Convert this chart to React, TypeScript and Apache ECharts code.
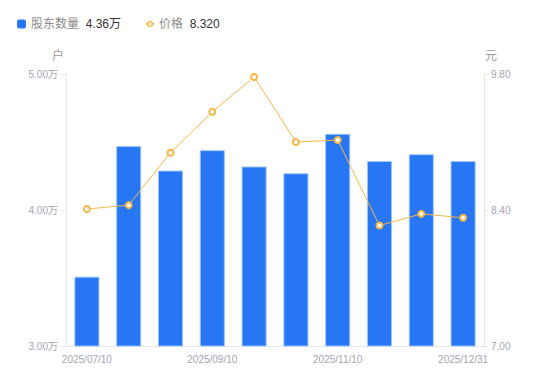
import React, { useEffect, useRef } from "react";
import * as echarts from "echarts";

const categories = [
  "2025/07/10", "2025/07/31", "2025/08/20", "2025/09/10", "2025/09/30",
  "2025/10/20", "2025/11/10", "2025/11/28", "2025/12/10", "2025/12/31",
];
const holders = [3.51, 4.47, 4.29, 4.44, 4.32, 4.27, 4.56, 4.36, 4.41, 4.36]; // 万户
const prices = [8.41, 8.45, 8.99, 9.41, 9.77, 9.10, 9.12, 8.24, 8.36, 8.32]; // 元
const leftTicks = { min: 3, max: 5, interval: 1 };
const rightTicks = { min: 7, max: 9.8, interval: 1.4 };
const barName = "股东数量";
const lineName = "价格";

export default function App() {
  const ref = useRef<HTMLDivElement>(null);
  useEffect(() => {
    if (!ref.current) return;
    const chart = echarts.init(ref.current, undefined, { renderer: "svg" });
    const lastHolder = holders[holders.length - 1];
    const lastPrice = prices[prices.length - 1];
    const axisLabelColor = "#a3a5b3";
    const legendText = {
      rich: {
        a: { color: "#8c8c8c", fontSize: 12 },
        b: { color: "#333333", fontSize: 12 },
      },
    };
    chart.setOption({
      animation: false,
      textStyle: { fontFamily: 'Arial, "Liberation Sans", "Noto Sans CJK SC", sans-serif' },
      legend: [
        {
          left: 17,
          top: 18,
          padding: 0,
          itemWidth: 9,
          itemHeight: 9,
          itemTextGap: 5,
          data: [{ name: barName, icon: "roundRect" }],
          itemStyle: { borderWidth: 0 },
          formatter: (name: string) => `{a|${name}}  {b|${lastHolder.toFixed(2)}万}`,
          textStyle: legendText,
        },
        {
          left: 145,
          top: 18,
          padding: 0,
          itemWidth: 8,
          itemHeight: 6,
          itemTextGap: 8,
          data: [{ name: lineName }],
          itemStyle: { borderWidth: 1.5 },
          formatter: (name: string) => `{a|${name}}  {b|${lastPrice.toFixed(3)}}`,
          textStyle: legendText,
        },
      ],
      grid: { left: 66, right: 66, top: 74, bottom: 35 },
      xAxis: {
        type: "category",
        data: categories,
        axisLine: { lineStyle: { color: "#e6e6e6" } },
        axisTick: { show: false },
        axisLabel: { interval: 2, color: axisLabelColor, fontSize: 10, margin: 8 },
      },
      yAxis: [
        {
          type: "value",
          name: "户",
          nameGap: 12,
          nameTextStyle: { color: "#9a9a9a", fontSize: 12, align: "right", padding: [0, 2, 0, 0] },
          min: leftTicks.min,
          max: leftTicks.max,
          interval: leftTicks.interval,
          axisLine: { show: true, lineStyle: { color: "#e6e6e6" } },
          axisTick: { show: true, length: 5, lineStyle: { color: "#e6e6e6" } },
          splitLine: { show: false },
          axisLabel: {
            color: axisLabelColor,
            fontSize: 10,
            margin: 8,
            formatter: (v: number) => `${v.toFixed(2)}万`,
          },
        },
        {
          type: "value",
          name: "元",
          nameGap: 12,
          nameTextStyle: { color: "#9a9a9a", fontSize: 12, align: "left", padding: [0, 0, 0, 1] },
          min: rightTicks.min,
          max: rightTicks.max,
          interval: rightTicks.interval,
          axisLine: { show: true, lineStyle: { color: "#e6e6e6" } },
          axisTick: { show: true, length: 4, lineStyle: { color: "#e6e6e6" } },
          splitLine: { show: false },
          axisLabel: {
            color: axisLabelColor,
            fontSize: 10,
            margin: 7,
            formatter: (v: number) => v.toFixed(2),
          },
        },
      ],
      series: [
        {
          name: barName,
          type: "bar",
          data: holders,
          barWidth: "60%",
          yAxisIndex: 0,
          itemStyle: { color: "#2777f4", borderColor: "#9dc2fb", borderWidth: 1 },
        },
        {
          name: lineName,
          type: "line",
          data: prices,
          yAxisIndex: 1,
          symbol: "circle",
          symbolSize: 6,
          lineStyle: { color: "#f8b646", width: 1 },
          itemStyle: { color: "#ffffff", borderColor: "#f8b646", borderWidth: 2 },
        },
      ],
    });
    return () => chart.dispose();
  }, []);
  return (
    <div
      ref={ref}
      style={{ position: "absolute", left: 0, top: 0, width: 550, height: 381, background: "#fff" }}
    />
  );
}
